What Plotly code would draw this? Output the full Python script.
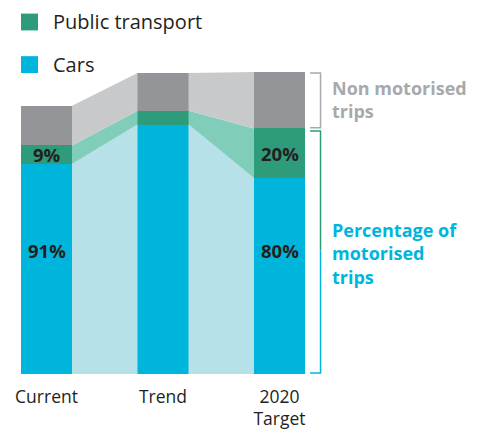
import plotly.graph_objects as go

categories = ["Current", "Trend", "2020<br>Target"]
cars = [69.5, 82.6, 64.9]
public_transport = [6.2, 4.6, 16.4]
non_motorised = [13.1, 12.5, 18.7]
car_labels = ["91%", "", "80%"]
pt_labels = ["9%", "", "20%"]

C_CARS = "#00B5DC"
C_PT = "#2E9B7A"
C_NM = "#939598"
L_CARS = "#B7E1E9"
L_PT = "#80CDB9"
L_NM = "#C8C9CB"
TXT = "#231F20"
FONT = "Open Sans"

xs = list(range(len(categories)))
W = 0.438

fig = go.Figure()

bounds = []
for i in xs:
    b1 = cars[i]
    b2 = b1 + public_transport[i]
    b3 = b2 + non_motorised[i]
    bounds.append((0, b1, b2, b3))

# connectors between bars
for i in range(len(xs) - 1):
    xa = xs[i] + W / 2
    xb = xs[i + 1] - W / 2
    for layer, col in enumerate([L_CARS, L_PT, L_NM]):
        lo_a, hi_a = bounds[i][layer], bounds[i][layer + 1]
        lo_b, hi_b = bounds[i + 1][layer], bounds[i + 1][layer + 1]
        fig.add_trace(go.Scatter(
            x=[xa, xb, xb, xa, xa], y=[hi_a, hi_b, lo_b, lo_a, hi_a],
            mode="lines", fill="toself", fillcolor=col,
            line=dict(width=0, color=col), hoverinfo="skip", showlegend=False))

for name, vals, col in [("Cars", cars, C_CARS),
                        ("Public transport", public_transport, C_PT),
                        ("Non motorised trips", non_motorised, C_NM)]:
    fig.add_trace(go.Bar(x=xs, y=vals, name=name, width=W,
                         marker=dict(color=col, line=dict(width=0)),
                         showlegend=False))

annotations = []
for i in xs:
    if pt_labels[i]:
        annotations.append(dict(x=xs[i], y=cars[i] + public_transport[i] / 2,
                                text="<b>%s</b>" % pt_labels[i], showarrow=False,
                                font=dict(size=18.5, color=TXT, family=FONT)))
    if car_labels[i]:
        annotations.append(dict(x=xs[i], y=41, text="<b>%s</b>" % car_labels[i],
                                showarrow=False,
                                font=dict(size=18.5, color=TXT, family=FONT)))

# brackets
bx1, bx2 = 2.262, 2.352
tgt = bounds[-1]
shapes = [
    dict(type="path", xref="x", yref="y",
         path="M %f,%f L %f,%f L %f,%f L %f,%f" % (bx1, tgt[3] - 0.3, bx2, tgt[3] - 0.3,
                                                  bx2, tgt[2] + 0.2, bx1, tgt[2] + 0.2),
         line=dict(color="#A7A9AC", width=1.5)),
    dict(type="path", xref="x", yref="y",
         path="M %f,%f L %f,%f L %f,%f" % (bx1, tgt[2] - 0.8, bx2, tgt[2] - 0.8, bx2, 41),
         line=dict(color=C_PT, width=1.5)),
    dict(type="path", xref="x", yref="y",
         path="M %f,%f L %f,%f L %f,%f" % (bx2, 41, bx2, 0.3, bx1, 0.3),
         line=dict(color=C_CARS, width=1.5)),
]
annotations.append(dict(x=2.433, y=91, xanchor="left", align="left", showarrow=False,
                        text="<b>Non motorised<br>trips</b>",
                        font=dict(size=18, color="#A7A9AC", family=FONT)))
annotations.append(dict(x=2.433, y=40, xanchor="left", align="left", showarrow=False,
                        text="<b>Percentage of<br>motorised<br>trips</b>",
                        font=dict(size=18, color=C_CARS, family=FONT)))

# custom legend (placed in the top margin)
PW, PH = 477.0, 305.0
def px(x):
    return x / PW
def py(y):
    return (377.0 - y) / PH

for (label, col, y0, y1) in [("Public transport", C_PT, 13, 30), ("Cars", C_CARS, 56, 73)]:
    shapes.append(dict(type="rect", xref="paper", yref="paper",
                       x0=px(21), x1=px(38), y0=py(y1), y1=py(y0),
                       fillcolor=col, line=dict(width=0)))
    annotations.append(dict(xref="paper", yref="paper", x=px(51), y=py((y0 + y1) / 2),
                            xanchor="left", yanchor="middle", showarrow=False,
                            text=label, font=dict(size=20, color=TXT, family=FONT)))

fig.update_layout(
    width=477, height=430,
    margin=dict(l=0, r=0, t=72, b=53),
    barmode="stack",
    plot_bgcolor="white", paper_bgcolor="white",
    shapes=shapes, annotations=annotations,
    font=dict(family=FONT, color=TXT),
    xaxis=dict(range=[-0.3991, 3.695], tickvals=xs, ticktext=categories,
               showgrid=False, zeroline=False, showline=False, ticks="",
               ticklabelstandoff=10,
               tickfont=dict(size=17.5, color=TXT, family=FONT), fixedrange=True),
    yaxis=dict(range=[0, 100], visible=False, showgrid=False, zeroline=False,
               fixedrange=True),
)

fig.write_html("out.html", config={"displayModeBar": False},
               post_script="document.body.style.margin='0px';")
